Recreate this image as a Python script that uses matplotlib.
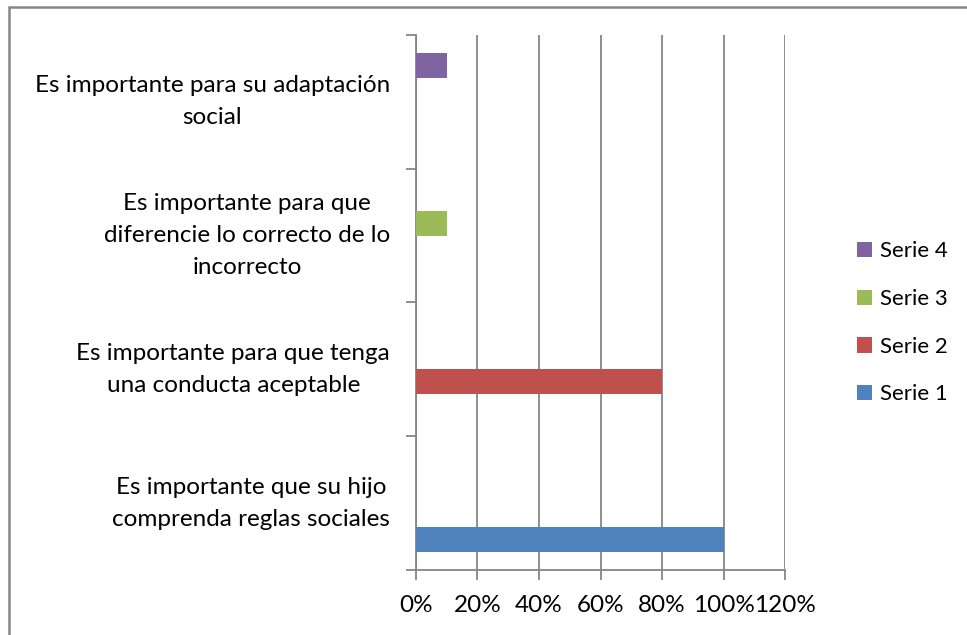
import matplotlib.pyplot as plt
from matplotlib.patches import Rectangle
import numpy as np

plt.rcParams['font.family'] = ['Lato', 'DejaVu Sans']

categories = [
    'Es importante que su hijo\ncomprenda reglas sociales',
    'Es importante para que tenga\nuna conducta aceptable',
    'Es importante para que\ndiferencie lo correcto de lo\nincorrecto',
    'Es importante para su adaptación\nsocial',
]
series_names = ['Serie 1', 'Serie 2', 'Serie 3', 'Serie 4']
serie1 = [1.00, 0, 0, 0]
serie2 = [0, 0.80, 0, 0]
serie3 = [0, 0, 0.10, 0]
serie4 = [0, 0, 0, 0.10]
x_ticks = [0, 0.2, 0.4, 0.6, 0.8, 1.0, 1.2]
x_labels = ['0%', '20%', '40%', '60%', '80%', '100%', '120%']

colors = ['#4F81BD', '#C0504D', '#9BBB59', '#8064A2']
grid_col = '#868686'

fig = plt.figure(figsize=(9.67, 6.35), dpi=100)
ax = fig.add_axes([0.430, 0.1024, 0.382, 0.8425])

# clustered bars, gap width 150%
n = 4
bw = 1 / (n + 1.5)
y = np.arange(len(categories))
for i, vals in enumerate([serie1, serie2, serie3, serie4]):
    offs = -0.5 + 0.75 * bw + (i + 0.5) * bw
    ax.barh(y + offs, vals, height=bw, color=colors[i], label=series_names[i], zorder=3)

ax.set_xlim(0, 1.2)
ax.set_ylim(-0.5, len(categories) - 0.5)
ax.set_xticks(x_ticks)
ax.set_xticklabels(x_labels, fontsize=17.5)
ax.set_yticks(y)
ax.set_yticklabels(categories, fontsize=17.5)
for lbl in ax.get_yticklabels():
    lbl.set_multialignment('center')
    lbl.set_linespacing(1.65)
    lbl.set_verticalalignment('center')
ax.tick_params(axis='y', length=0, pad=18.5)
ax.set_yticks(np.arange(len(categories) + 1) - 0.5, minor=True)
ax.tick_params(axis='y', which='minor', length=7, color=grid_col, width=1.3)
ax.tick_params(axis='x', length=7, color=grid_col, width=1.3, pad=11)

ax.grid(axis='x', color=grid_col, linewidth=1.3, zorder=0)
ax.set_axisbelow(True)
for s in ['top', 'right']:
    ax.spines[s].set_visible(False)
for s in ['left', 'bottom']:
    ax.spines[s].set_color(grid_col)
    ax.spines[s].set_linewidth(1.3)

handles, labels = ax.get_legend_handles_labels()
ax.legend(handles[::-1], labels[::-1], loc='center left', bbox_to_anchor=(1.195, 0.462),
          frameon=False, fontsize=16, handlelength=0.68, handleheight=0.68,
          handletextpad=0.36, labelspacing=1.25, borderpad=0, borderaxespad=0)

# chart area border (only left and top edges fall inside the image)
fig.patches.append(Rectangle((9 / 967, -0.1), 1.2, (635 - 6.5) / 635 + 0.1,
                             transform=fig.transFigure, fill=False,
                             edgecolor=grid_col, linewidth=1.8))

fig.savefig('out.png', dpi=100)
